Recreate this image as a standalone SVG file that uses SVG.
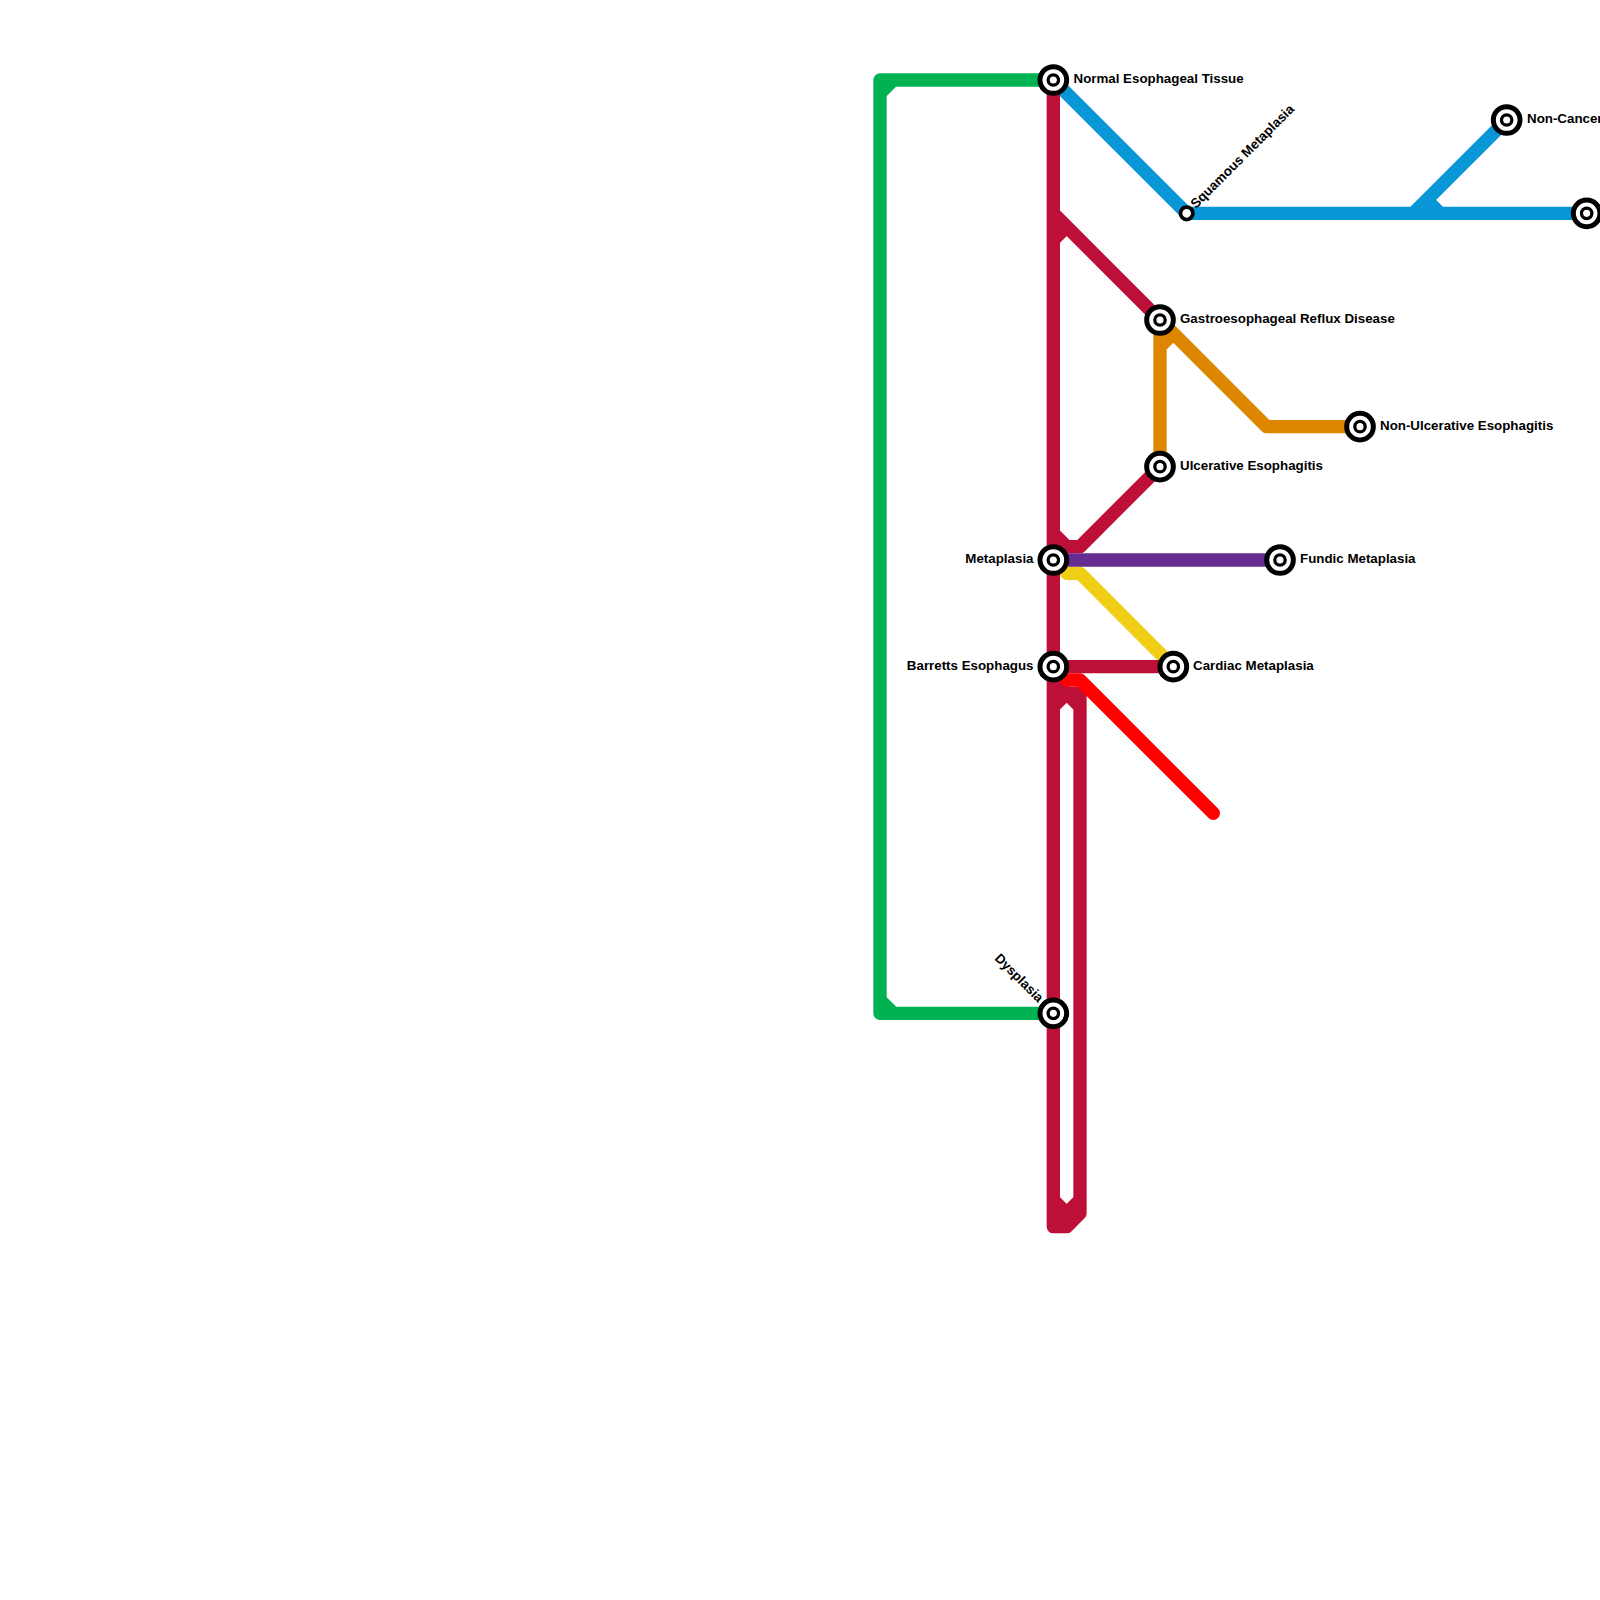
<svg xmlns="http://www.w3.org/2000/svg" width="1600" height="1600" viewBox="0 0 1600 1600">
<style>
.l{fill:none;stroke-width:13.33;stroke-linecap:round;stroke-linejoin:round}
.s{fill:#fff;stroke:#000;stroke-width:5}
.i{fill:#fff;stroke:#000;stroke-width:3.3}
.t{font-family:"Liberation Sans",Arial,sans-serif;font-weight:700;font-size:13.33px;fill:#000}
.e{text-anchor:end}
</style>
<rect width="1600" height="1600" fill="#fff"/>
<g id="connectors">
<path class="l" stroke="#00b251" d="M1053.33 80H893.33L880 93.33V1000L893.33 1013.33H1053.33M893.33 80H880V93.33M880 1000V1013.33H893.33"/>
<path class="l" stroke="#0896d7" d="M1053.33 80L1186.67 213.33H1586.67M1506.67 120L1413.33 213.33M1426.67 200L1440 213.33"/>
<path class="l" stroke="#df8600" d="M1160 320V466.67M1160 346.67L1173.33 333.33M1160 320L1266.67 426.67H1360"/>
<path class="l" stroke="#f0ce15" d="M1066.67 573.33H1080L1173.33 666.67"/>
<path class="l" stroke="#bd1038" d="M1053.33 80V1226.67H1066.67L1080 1213.33V706.67L1066.67 693.33L1053.33 706.67M1053.33 680L1066.67 693.33H1080V706.67M1053.33 213.33L1160 320M1053.33 240L1066.67 226.67M1053.33 533.33L1066.67 546.67H1080L1160 466.67M1053.33 666.67H1173.33M1053.33 1200L1066.67 1213.33L1080 1200M1066.67 1213.33V1226.67"/>
<path class="l" stroke="#662c90" d="M1053.33 560H1280"/>
<path class="l" stroke="#ff0000" d="M1066.67 680H1080L1213.33 813.33"/>
</g>
<g id="n-normal"><circle class="s" cx="1053.33" cy="80" r="13.33"/><circle class="i" cx="1053.33" cy="80" r="5.2"/><text class="t" x="1073.5" y="83">Normal Esophageal Tissue</text></g>
<g id="n-squamous"><circle cx="1186.67" cy="213.33" r="6.2" fill="#fff" stroke="#000" stroke-width="3.8"/><text class="t" transform="translate(1196 209) rotate(-45)">Squamous Metaplasia</text></g>
<g id="n-noncancer"><circle class="s" cx="1506.67" cy="120" r="13.33"/><circle class="i" cx="1506.67" cy="120" r="5.2"/><text class="t" x="1527" y="123">Non-Cancer</text></g>
<g id="n-east"><circle class="s" cx="1586.67" cy="213.33" r="13.33"/><circle class="i" cx="1586.67" cy="213.33" r="5.2"/></g>
<g id="n-gerd"><circle class="s" cx="1160" cy="320" r="13.33"/><circle class="i" cx="1160" cy="320" r="5.2"/><text class="t" x="1180" y="323">Gastroesophageal Reflux Disease</text></g>
<g id="n-nonulc"><circle class="s" cx="1360" cy="426.67" r="13.33"/><circle class="i" cx="1360" cy="426.67" r="5.2"/><text class="t" x="1380" y="429.7">Non-Ulcerative Esophagitis</text></g>
<g id="n-ulc"><circle class="s" cx="1160" cy="466.67" r="13.33"/><circle class="i" cx="1160" cy="466.67" r="5.2"/><text class="t" x="1180" y="469.7">Ulcerative Esophagitis</text></g>
<g id="n-meta"><circle class="s" cx="1053.33" cy="560" r="13.33"/><circle class="i" cx="1053.33" cy="560" r="5.2"/><text class="t e" x="1033.5" y="563">Metaplasia</text></g>
<g id="n-fundic"><circle class="s" cx="1280" cy="560" r="13.33"/><circle class="i" cx="1280" cy="560" r="5.2"/><text class="t" x="1300" y="563">Fundic Metaplasia</text></g>
<g id="n-barretts"><circle class="s" cx="1053.33" cy="666.67" r="13.33"/><circle class="i" cx="1053.33" cy="666.67" r="5.2"/><text class="t e" x="1033.5" y="669.7">Barretts Esophagus</text></g>
<g id="n-cardiac"><circle class="s" cx="1173.33" cy="666.67" r="13.33"/><circle class="i" cx="1173.33" cy="666.67" r="5.2"/><text class="t" x="1193" y="669.7">Cardiac Metaplasia</text></g>
<g id="n-dysplasia"><circle class="s" cx="1053.33" cy="1013.33" r="13.33"/><circle class="i" cx="1053.33" cy="1013.33" r="5.2"/><text class="t e" transform="translate(1038 1003) rotate(45)">Dysplasia</text></g>
</svg>
